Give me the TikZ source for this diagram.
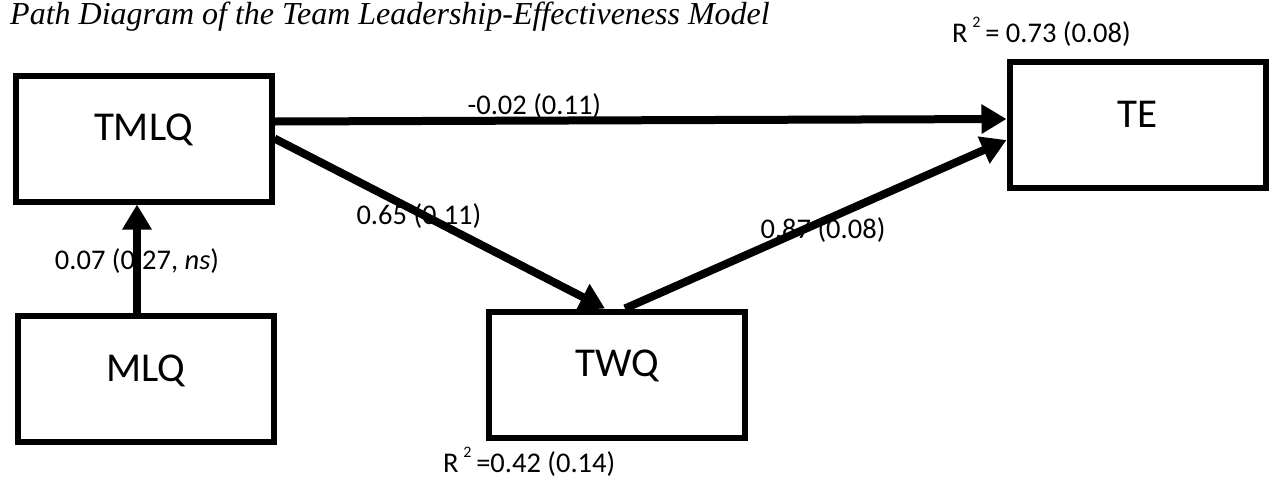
\documentclass[tikz,border=0pt]{standalone}
\usepackage{fontspec}
\setmainfont{Carlito}
\newfontfamily\titlefont{Liberation Serif}
\usetikzlibrary{positioning,arrows.meta}
\newcommand{\sqr}{\,\raisebox{15pt}{\fontsize{16}{16}\selectfont 2}\,}

\begin{document}
\begin{tikzpicture}[x=1pt,y=-1pt,>={Triangle[length=25pt,width=28pt]},
    box/.style={draw,line width=6pt,minimum width=256pt,minimum height=126pt,
      font=\fontsize{41}{48}\selectfont,text height=26pt,text depth=22pt},
    link/.style={->,line width=8pt},
    coef/.style={font=\fontsize{28.5}{32}\selectfont,inner sep=0pt}]
    \useasboundingbox (0,0) rectangle (1269,480);
    \node[anchor=base west,inner sep=0pt,font=\titlefont\itshape\fontsize{32}{36}\selectfont] (title) at (10,24)
      {Path Diagram of the Team Leadership-Effectiveness Model};

    \node[box] (TMLQ) at (143.5,138.5) {TMLQ};
    \node[box] (MLQ) at (145.5,379) {MLQ};
    \node[box] (TWQ) at (617,374.5) {TWQ};
    \node[box] (TE) at (1137.5,125) {TE};

    \node[coef,anchor=base west] (r2te) at (952,42) {R\sqr = 0.73 (0.08)};
    \node[coef,anchor=base west] (r2twq) at (443,472) {R\sqr =0.42 (0.14)};

    \path[link]
      ([xshift=-8.5pt]MLQ.north) edge node[coef,pos=.48] {0.07 (0.27, \textit{ns})} ([xshift=-6.5pt]TMLQ.south)
      ([yshift=17pt]TMLQ.east) edge node[coef,pos=.355,yshift=15pt] {-0.02 (0.11)} ([yshift=6pt]TE.west)
      (TMLQ.east) edge node[coef,pos=.437,yshift=-3pt] {0.65 (0.11)} ([xshift=-12pt]TWQ.north)
      ([xshift=8pt]TWQ.north) edge node[coef,pos=.519,yshift=-9pt] {0.87 (0.08)} ([yshift=-15pt]TE.west);
  \end{tikzpicture}
\end{document}
